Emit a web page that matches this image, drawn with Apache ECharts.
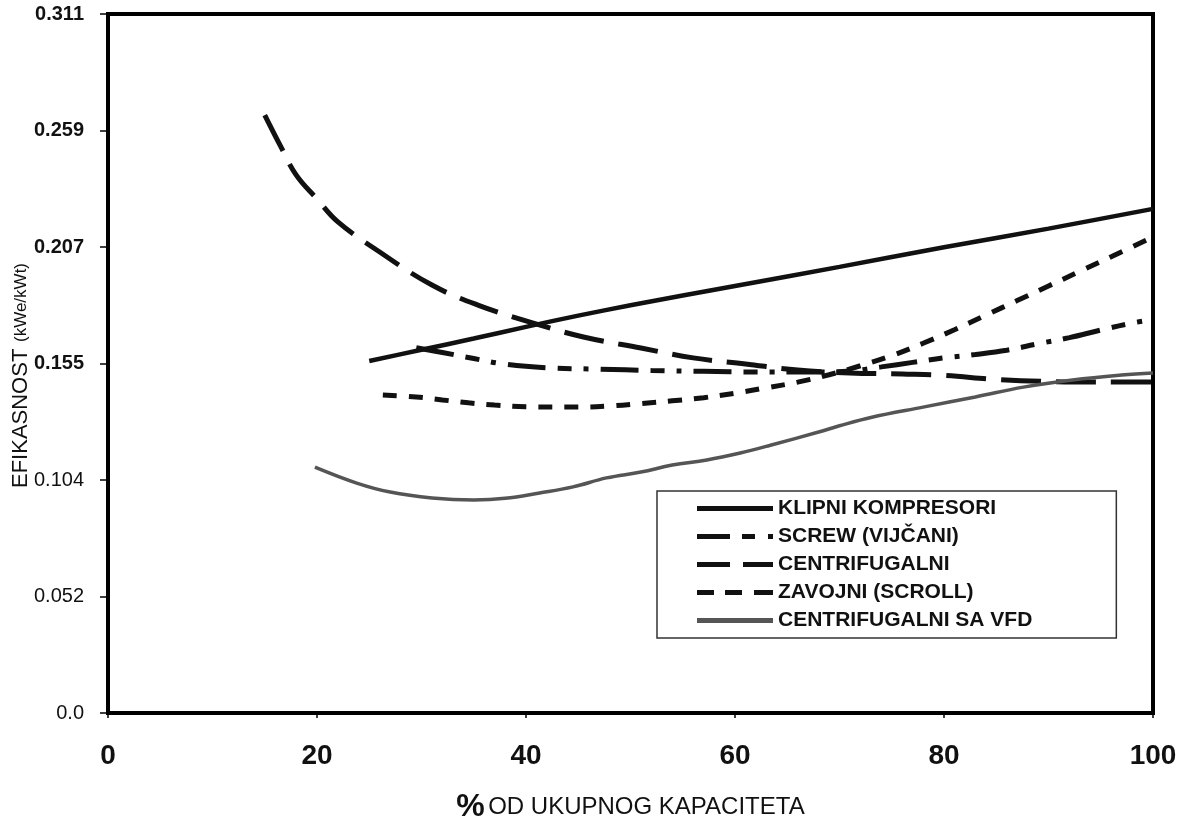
<!DOCTYPE html>
<html>
<head>
<meta charset="utf-8">
<script src="https://cdn.jsdelivr.net/npm/echarts@6/dist/echarts.min.js"></script>
<style>
html,body{margin:0;padding:0;background:#fff;}
#chart{width:1179px;height:819px;}
</style>
</head>
<body>
<div id="chart"></div>
<script>
// ---- data (x = % of total capacity, y = kWe/kWt) ----
const seriesNames = ['KLIPNI KOMPRESORI', 'SCREW (VIJČANI)', 'CENTRIFUGALNI', 'ZAVOJNI (SCROLL)', 'CENTRIFUGALNI SA VFD'];
const xTickLabels = ['0', '20', '40', '60', '80', '100'];
const yTickLabels = ['0.0', '0.052', '0.104', '0.155', '0.207', '0.259', '0.311'];

const klipni = [[25,0.1566],[30,0.1616],[35,0.1666],[40,0.1718],[45,0.1768],[50,0.1814],[60,0.1900],[70,0.1985],[80,0.2072],[90,0.2155],[100,0.2243]];
const screw = [[29.5,0.1625],[32,0.1604],[35,0.1577],[38,0.1552],[42,0.1536],[47,0.1530],[52,0.1524],[57,0.1520],[62,0.1517],[67,0.1517],[71,0.1522],[74,0.1540],[77,0.1560],[80,0.1580],[83,0.1595],[86,0.1614],[89,0.1643],[92,0.1670],[95,0.1704],[98,0.1735],[100,0.1750]];
const centrifugal = [[15,0.2660],[16.5,0.2523],[18,0.2394],[20,0.2287],[22,0.2185],[26,0.2051],[31,0.1904],[35.4,0.1815],[40.7,0.1735],[45.5,0.1673],[51,0.1624],[56,0.1580],[61,0.1553],[66,0.1526],[71,0.1513],[76,0.1508],[80,0.1502],[85,0.1484],[90,0.1475],[95,0.1473],[100,0.1473]];
const scroll = [[26.3,0.1415],[29.5,0.1406],[32,0.1393],[34.5,0.1380],[37,0.1370],[40,0.1363],[45,0.1361],[48,0.1366],[51,0.1377],[54,0.1389],[57,0.1403],[60,0.1423],[63,0.1447],[66,0.1472],[69,0.1505],[72,0.1545],[75,0.1590],[78,0.1645],[81,0.1705],[84,0.1770],[87,0.1835],[90,0.1900],[93,0.1965],[96,0.2030],[100,0.2118]];
const vfd = [[19.8,0.1094],[23.8,0.1023],[27,0.0983],[31,0.0957],[35,0.0948],[38,0.0955],[41.3,0.0979],[44.5,0.1006],[47.7,0.1046],[51,0.1072],[54,0.1103],[57.3,0.1126],[60.5,0.1157],[63.3,0.1190],[68,0.1250],[70,0.1278],[73,0.1315],[78,0.1361],[83,0.1406],[87.6,0.1450],[92.3,0.1482],[97,0.1504],[100,0.1513]];

const yMax = 0.311;
const yStep = yMax / 6;

// legend sample glyphs (dash patterns drawn as icon paths)
const legendIcons = [
  'path://M0,0H76V5H0Z',
  'path://M0,0H33V5H0Z M45,0H58V5H45Z M71,0H76V5H71Z',
  'path://M0,0H33V5H0Z M46,0H76V5H46Z',
  'path://M0,0H17V5H0Z M28,0H45V5H28Z M57,0H76V5H57Z',
  'path://M0,0H76V5H0Z'
];

const chart = echarts.init(document.getElementById('chart'));
const FONT = "'Liberation Sans', Arial, sans-serif";

function mk(name, data, color, width, type, smooth) {
  return {
    name: name, type: 'line', data: data, smooth: smooth,
    symbol: 'none', showSymbol: false,
    lineStyle: { color: color, width: width, type: type },
    itemStyle: { color: color },
    z: 3
  };
}

chart.setOption({
  animation: false,
  backgroundColor: '#fff',
  grid: { left: 108, right: 26, top: 14, bottom: 106, outerBoundsMode: 'none', containLabel: false,
          show: true, borderColor: '#000', borderWidth: 4, backgroundColor: 'transparent' },
  legend: {
    orient: 'vertical', left: 657, top: 491,
    backgroundColor: '#fff', borderColor: '#333', borderWidth: 1.5, borderRadius: 0,
    padding: [7, 84, 7, 40],
    itemWidth: 76, itemHeight: 5, itemGap: 7,
    itemStyle: { borderWidth: 0 },
    textStyle: { fontFamily: FONT, fontSize: 21, fontWeight: 'bold', color: '#111', lineHeight: 20 },
    data: seriesNames.map(function (n, i) { return { name: n, icon: legendIcons[i] }; })
  },
  xAxis: {
    type: 'value', min: 0, max: 100, interval: 20,
    name: '{p|%} {t|OD UKUPNOG KAPACITETA}', nameLocation: 'middle', nameGap: 78,
    nameMoveOverlap: false,
    nameTextStyle: { rich: {
      p: { fontFamily: FONT, fontSize: 32, fontWeight: 'bold', color: '#111' },
      t: { fontFamily: FONT, fontSize: 24, color: '#111' }
    } },
    axisLine: { show: true, lineStyle: { color: '#000', width: 4 } },
    axisTick: { show: true, inside: false, length: 5, lineStyle: { color: '#000', width: 1.5 } },
    splitLine: { show: false },
    axisLabel: {
      margin: 29, color: '#111', fontSize: 28, fontWeight: 'bold', fontFamily: FONT,
      formatter: function (v) { return xTickLabels[Math.round(v / 20)]; }
    }
  },
  yAxis: {
    type: 'value', min: 0, max: yMax, interval: yStep,
    name: '{a|EFIKASNOST}  {b|(kWe/kWt)}', nameLocation: 'middle', nameGap: 76, nameRotate: 90,
    nameMoveOverlap: false,
    nameTextStyle: { padding: [0, 24, 0, 0], rich: {
      a: { fontFamily: FONT, fontSize: 22, color: '#111' },
      b: { fontFamily: FONT, fontSize: 17, color: '#111' }
    } },
    axisLine: { show: true, lineStyle: { color: '#000', width: 4 } },
    axisTick: { show: true, inside: false, length: 8, lineStyle: { color: '#000', width: 1.5 } },
    splitLine: { show: false },
    axisLabel: {
      margin: 24, color: '#111', fontSize: 20, fontFamily: FONT,
      formatter: function (v) {
        const i = Math.round(v / yStep);
        return i >= 3 ? '{bo|' + yTickLabels[i] + '}' : '{re|' + yTickLabels[i] + '}';
      },
      rich: {
        bo: { fontFamily: FONT, fontSize: 20, fontWeight: 'bold', color: '#111' },
        re: { fontFamily: FONT, fontSize: 20, color: '#111' }
      }
    }
  },
  series: [
    mk(seriesNames[0], klipni, '#111', 4.5, 'solid', 0.3),
    mk(seriesNames[1], screw, '#111', 5, [38, 12, 14, 12, 5, 12], 0.4),
    mk(seriesNames[2], centrifugal, '#111', 5, [40, 15], 0.4),
    mk(seriesNames[3], scroll, '#111', 5, [14, 12], 0.4),
    mk(seriesNames[4], vfd, '#555', 3.5, 'solid', 0.4)
  ]
});
</script>
</body>
</html>
